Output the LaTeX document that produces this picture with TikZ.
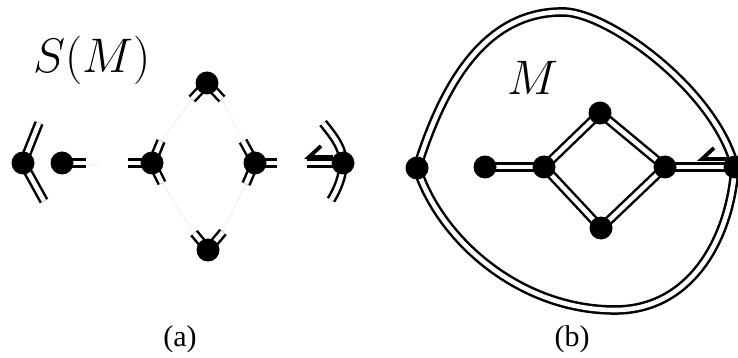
\documentclass[tikz,border=0pt]{standalone}
\usepackage{graphicx}
\usepackage{fontspec}
\newfontfamily\tnr{Liberation Serif}
\usetikzlibrary{backgrounds}
\tikzset{
  dot/.style={circle, fill=black, inner sep=0pt, minimum size=23pt},
  dbl/.style={draw=black, line width=2.5pt, double=white, double distance=4.6pt},
  faint/.style={draw=black!12, line width=0.4pt},
  harp/.style={draw=black, line width=3.8pt, line join=miter},
  biglbl/.style={inner sep=0pt},
  sublbl/.style={inner sep=0pt, font=\tnr\fontsize{30}{30}\selectfont}
}
\newcommand{\bigmath}[1]{\scalebox{1.95}{\Huge $#1$}}
\begin{document}
\begin{tikzpicture}[x=1pt, y=-1pt]
\useasboundingbox (0,0) rectangle (738,358);
% ---------- panel (a) ----------
\node[dot] (L) at (23,163) {};
\node[dot] (A) at (62,163) {};
\node[dot] (B) at (152,163) {};
\node[dot] (T) at (207,83) {};
\node[dot] (Bo) at (208,250) {};
\node[dot] (C) at (255,163) {};
\node[dot] (R) at (343,163) {};
\coordinate (lu) at (39,123);
\coordinate (ld) at (44,201);
\coordinate (ae) at (86,163);
\coordinate (af) at (98,166);
\coordinate (bl) at (128,163);
\coordinate (bu) at (161,141);
\coordinate (bd) at (162,183);
\coordinate (tl) at (192,99);
\coordinate (tr) at (222,99);
\coordinate (bol) at (194,233);
\coordinate (bor) at (223,232);
\coordinate (cu) at (243,141);
\coordinate (cd) at (246,184);
\coordinate (cr) at (277,163);
\coordinate (rl) at (307,163);
\coordinate (ru) at (323,123);
\coordinate (rd) at (331,200);
\begin{scope}[on background layer]
  \draw[faint] (ae) -- (af);
  \draw[faint] (bu) -- (tl);
  \draw[faint] (tr) -- (cu);
  \draw[faint] (bd) -- (bol);
  \draw[faint] (bor) -- (cd);
  \draw[dbl] (lu) -- (L.center) -- (ld);
  \draw[dbl] (A.center) -- (ae);
  \draw[dbl] (bl) -- (B.center);
  \draw[dbl] (B.center) -- (bu);
  \draw[dbl] (B.center) -- (bd);
  \draw[dbl] (tl) -- (T.center) -- (tr);
  \draw[dbl] (bol) -- (Bo.center) -- (bor);
  \draw[dbl] (cu) -- (C.center) -- (cd);
  \draw[dbl] (C.center) -- (cr);
  \draw[dbl] (rl) -- (R.center);
  \draw[dbl] (ru) .. controls (337,140) and (343,150) .. (R.center)
                  .. controls (343,177) and (337,190) .. (rd);
\end{scope}
\coordinate (ha1) at (321,146);
\coordinate (ha2) at (309,157);
\coordinate (ha3) at (333,157);
\draw[harp] (ha1) -- (ha2) -- (ha3);
\node[biglbl] (SM) at (92,60) {\bigmath{S(M)}};
\node[sublbl] (capa) at (180,339) {(a)};
% ---------- panel (b) ----------
\node[dot] (O1) at (417,168) {};
\node[dot] (P) at (485,167) {};
\node[dot] (Q) at (544,167) {};
\node[dot] (Dt) at (600,113) {};
\node[dot] (Db) at (601,228) {};
\node[dot] (Dr) at (665,167) {};
\node[dot] (O2) at (735,167) {};
\coordinate (ltop) at (565,12);
\coordinate (lbot) at (615,310);
\begin{scope}[on background layer]
  \draw[dbl] (O1.center) .. controls (440,95) and (480,10) .. (ltop)
             .. controls (610,14) and (715,90) .. (O2.center);
  \draw[dbl] (O1.center) .. controls (440,240) and (520,310) .. (lbot)
             .. controls (690,310) and (730,240) .. (O2.center);
  \draw[dbl] (P.center) -- (Q.center);
  \draw[dbl] (Q.center) -- (Dt.center);
  \draw[dbl] (Q.center) -- (Db.center);
  \draw[dbl] (Dt.center) -- (Dr.center);
  \draw[dbl] (Db.center) -- (Dr.center);
  \draw[dbl] (Dr.center) -- (O2.center);
\end{scope}
\coordinate (hb1) at (714,148);
\coordinate (hb2) at (702,159);
\coordinate (hb3) at (729,159);
\draw[harp] (hb1) -- (hb2) -- (hb3);
\node[biglbl] (Mlbl) at (533,78) {\bigmath{M}};
\node[sublbl] (capb) at (572,339) {(b)};
\end{tikzpicture}
\end{document}
